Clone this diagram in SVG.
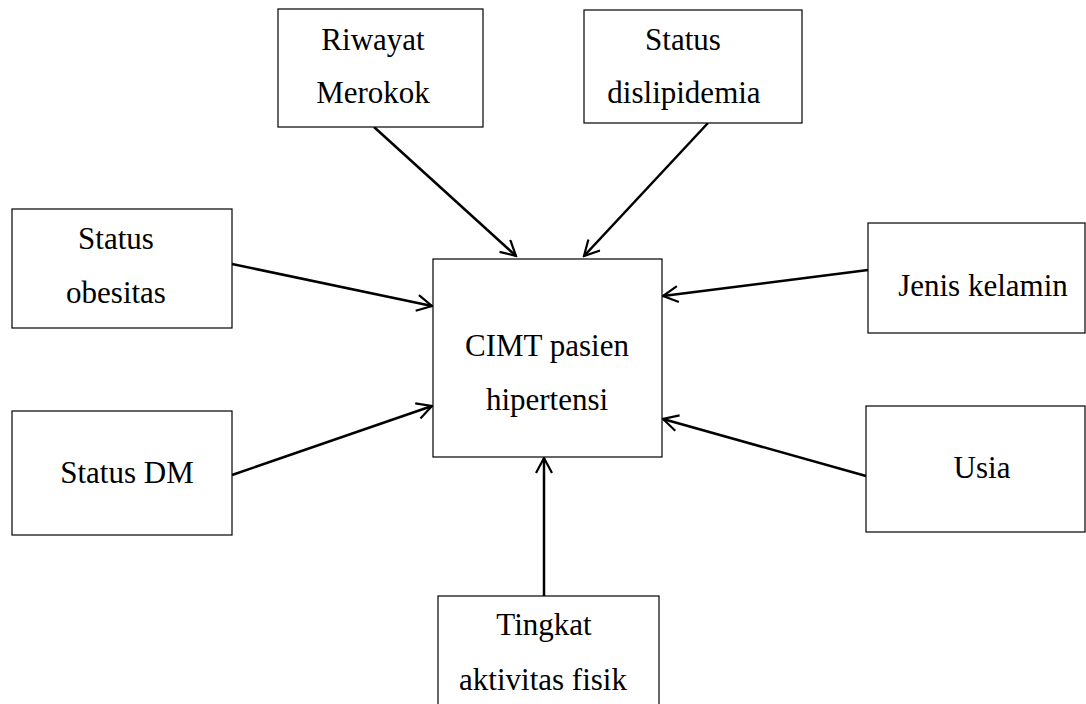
<svg xmlns="http://www.w3.org/2000/svg" width="1086" height="704" viewBox="0 0 1086 704">
<style>
.box{fill:#fff;stroke:#000;stroke-width:1.2}
.t{font-family:"Liberation Serif","Times New Roman",serif;font-size:31px;fill:#000;text-anchor:middle}
.c{stroke:#000;stroke-width:2.5;fill:none;marker-end:url(#ah)}
</style>
<defs>
<marker id="ah" markerUnits="userSpaceOnUse" viewBox="0 0 18 18" markerWidth="18" markerHeight="18" refX="16" refY="9" orient="auto">
<path d="M1,1 L16,9 L1,17" fill="none" stroke="#000" stroke-width="2.2"/>
</marker>
</defs>
<rect width="1086" height="704" fill="#fff"/>
<g id="connectors">
<line class="c" x1="374" y1="127" x2="516" y2="256"/>
<line class="c" x1="708" y1="123" x2="584" y2="256"/>
<line class="c" x1="232" y1="264" x2="432" y2="306"/>
<line class="c" x1="232" y1="475" x2="432" y2="406"/>
<line class="c" x1="868" y1="270" x2="663" y2="296"/>
<line class="c" x1="866" y1="476" x2="663" y2="419"/>
<line class="c" x1="544" y1="596" x2="544" y2="458"/>
</g>
<g id="center">
<rect class="box" x="433" y="259" width="229" height="198"/>
<text class="t" x="547" y="356">CIMT pasien</text>
<text class="t" x="547" y="410">hipertensi</text>
</g>
<g id="riwayat">
<rect class="box" x="278" y="9" width="205" height="118"/>
<text class="t" x="373" y="50">Riwayat</text>
<text class="t" x="373" y="103">Merokok</text>
</g>
<g id="dislipidemia">
<rect class="box" x="584" y="10" width="218" height="113"/>
<text class="t" x="683" y="50">Status</text>
<text class="t" x="684" y="103">dislipidemia</text>
</g>
<g id="obesitas">
<rect class="box" x="12" y="209" width="220" height="119"/>
<text class="t" x="116" y="249">Status</text>
<text class="t" x="116" y="303">obesitas</text>
</g>
<g id="dm">
<rect class="box" x="12" y="411" width="220" height="124"/>
<text class="t" x="127" y="483">Status DM</text>
</g>
<g id="jenis">
<rect class="box" x="868" y="223" width="217" height="110"/>
<text class="t" x="983" y="296">Jenis kelamin</text>
</g>
<g id="usia">
<rect class="box" x="866" y="406" width="219" height="126"/>
<text class="t" x="982" y="478">Usia</text>
</g>
<g id="tingkat">
<rect class="box" x="438" y="596" width="221" height="120"/>
<text class="t" x="544" y="635">Tingkat</text>
<text class="t" x="543" y="690">aktivitas fisik</text>
</g>
</svg>
